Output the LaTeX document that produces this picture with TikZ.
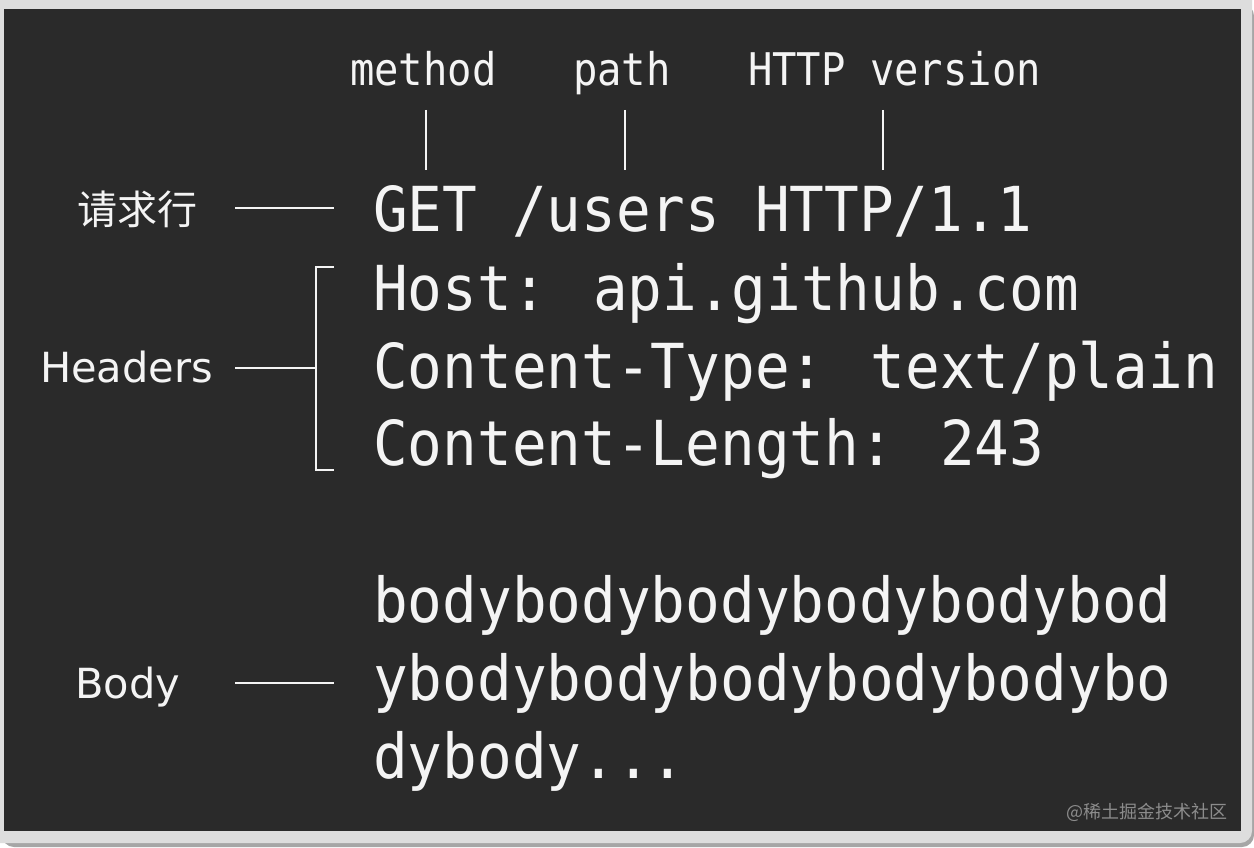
\documentclass[tikz,border=0pt]{standalone}
\usepackage{fontspec}
\setmainfont{DejaVu Sans}
\newfontfamily\codefont[FakeStretch=0.93]{DejaVu Sans Mono}
\newfontfamily\tagfont[FakeStretch=0.9]{DejaVu Sans Mono}
\newfontfamily\cjk{Noto Sans CJK SC}
\usetikzlibrary{positioning}
\definecolor{board}{HTML}{2A2A2A}
\definecolor{frame}{HTML}{DDDDDD}
\definecolor{chalk}{HTML}{F4F4F4}
\tikzstyle{code}=[text=chalk, inner sep=0pt, anchor=base west,
                  font=\codefont\fontsize{62}{64}\selectfont]
\tikzstyle{tag}=[text=chalk, inner sep=0pt, anchor=base west,
                 font=\tagfont\fontsize{45}{48}\selectfont]
\tikzstyle{part}=[text=chalk, inner sep=0pt, anchor=base west,
                  font=\fontsize{41.5}{44}\selectfont]
\tikzstyle{link}=[draw=chalk, line width=1.8pt]

\begin{document}
\begin{tikzpicture}[x=1pt, y=-1pt]
  % frame and board
  \useasboundingbox (0,0) rectangle (1254,848);
  \fill[white] (0,0) rectangle (1254,848);
  \fill[black!35, rounded corners=12pt] (2,4) rectangle (1254,847);
  \fill[frame, rounded corners=12pt] (-14,-14) rectangle (1252,843);
  \fill[board] (4,9) rectangle (1241,831);

  % request line and its parts
  \node[tag] (method)  at (350,86) {method};
  \node[tag] (path)    at (573,86) {path};
  \node[tag] (version) at (748,86) {HTTP version};
  \foreach \x in {426,625,883}
    \draw[link] (\x,110) -- (\x,170);
  \node[code] (get) at (373,232) {GET /users HTTP/1.1};

  % headers
  \node[code] (host) at (373,310) {Host: api.github.com};
  \node[code] (ctype) at (373,388) {Content-Type: text/plain};
  \node[code] (clen) at (373,465) {Content-Length: 243};

  % body
  \node[code] (body1) at (373,622) {bodybodybodybodybodybod};
  \node[code] (body2) at (373,700) {ybodybodybodybodybodybo};
  \node[code] (body3) at (373,778) {dybody...};

  % labels on the left
  \node[text=chalk, inner sep=0pt, anchor=west,
        font=\cjk\fontsize{40}{42}\selectfont] (req) at (77,209) {请求行};
  \node[part] (headers) at (40,382) {Headers};
  \node[part] (body) at (75,698) {Body};

  \coordinate (reqtip) at (235,208);
  \coordinate (headtip) at (235,368);
  \coordinate (bodytip) at (235,683);
  \coordinate (braceT) at (316,267);
  \coordinate (braceB) at (316,470);
  \draw[link] (reqtip) -- ([xshift=-39pt]reqtip -| get.west);
  \draw[link] (headtip) -- (headtip -| braceT);
  \draw[link] ([xshift=-39pt]braceT -| host.west) -- (braceT)
              -- (braceB) -- ([xshift=-39pt]braceB -| clen.west);
  \draw[link] (bodytip) -- ([xshift=-39pt]bodytip -| body2.west);

  % watermark
  \node[text=black!45, inner sep=0pt, anchor=east,
        font=\cjk\fontsize{18}{19}\selectfont] (mark) at (1228,812) {@稀土掘金技术社区};
\end{tikzpicture}
\end{document}
